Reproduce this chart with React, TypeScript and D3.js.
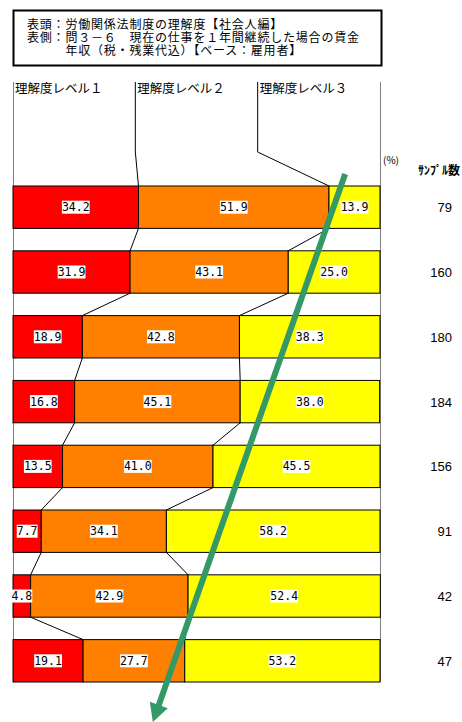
import React, { useEffect, useRef } from 'react';
import * as d3 from 'd3';

// タイトル
const titleLines = [
    '表頭：労働関係法制度の理解度【社会人編】',
    '表側：問３－６　現在の仕事を１年間継続した場合の賃金',
    '　　　年収（税・残業代込）【ベース：雇用者】',
];

const seriesNames = ['理解度レベル１', '理解度レベル２', '理解度レベル３'];
const level1 = [34.2, 31.9, 18.9, 16.8, 13.5, 7.7, 4.8, 19.1];
const level2 = [51.9, 43.1, 42.8, 45.1, 41.0, 34.1, 42.9, 27.7];
const level3 = [13.9, 25.0, 38.3, 38.0, 45.5, 58.2, 52.4, 53.2];
const sampleSizes = [79, 160, 180, 184, 156, 91, 42, 47];

const colors = ['#ff0000', '#ff8000', '#ffff00'];

const W = 462;
const H = 722;
const JP = '"Noto Sans CJK JP", sans-serif';

const App: React.FC = () => {
    const svgRef = useRef<SVGSVGElement>(null);

    useEffect(() => {
        const svg = d3.select(svgRef.current);
        svg.selectAll('*').remove();

        const left = 13, right = 380, headTop = 82, barTop = 186, barBottom = 682;

        const x = d3.scaleLinear().domain([0, 100]).range([left, right]);
        const y = d3.scaleBand<number>()
            .domain(d3.range(level1.length))
            .range([barTop, barBottom])
            .paddingInner(0.346)
            .paddingOuter(0);
        const bw = y.bandwidth();

        const rows = level1.map((_, i) => ({ i, l1: level1[i], l2: level2[i], l3: level3[i] }));
        const stacked = d3.stack<any>().keys(['l1', 'l2', 'l3'])(rows);
        // cumulative boundaries for connector lines
        const cum = (i: number, k: number) => stacked[k - 1][i][1];

        svg.append('rect').attr('width', W).attr('height', H).attr('fill', '#fff');

        // title box
        svg.append('rect')
            .attr('x', 13.5).attr('y', 10.5)
            .attr('width', 368).attr('height', 55)
            .attr('fill', '#fff').attr('stroke', '#000').attr('stroke-width', 2);
        svg.selectAll('.title')
            .data(titleLines)
            .enter()
            .append('text')
            .attr('x', 27)
            .attr('y', (d, i) => 29 + i * 12.8)
            .style('font-family', JP)
            .style('font-size', '12px')
            .style('letter-spacing', '0.8px')
            .style('fill', '#000')
            .text(d => d);

        // frame lines
        [left, right].forEach(px => {
            svg.append('line')
                .attr('x1', px + 0.5).attr('x2', px + 0.5)
                .attr('y1', headTop).attr('y2', barBottom)
                .attr('stroke', '#808080').attr('stroke-width', 1);
        });

        // legend labels + leader lines
        const slot = (right - left) / 3;
        seriesNames.forEach((name, k) => {
            const sx = left + k * slot;
            svg.append('text')
                .attr('x', sx + 2)
                .attr('y', 93)
                .style('font-family', JP)
                .style('font-size', '12.5px')
                .style('fill', '#000')
                .text(name);
            if (k > 0) {
                svg.append('path')
                    .attr('d', `M${sx},${headTop}V152L${x(cum(0, k))},${barTop}`)
                    .attr('fill', 'none')
                    .attr('stroke', '#000')
                    .attr('stroke-width', 1);
            }
        });

        svg.append('text')
            .attr('x', 383).attr('y', 164)
            .style('font-family', JP).style('font-size', '10px')
            .text('(%)');
        svg.append('text')
            .attr('x', 418).attr('y', 175)
            .style('font-family', JP).style('font-size', '12px')
            .style('font-weight', 'bold')
            .text('ｻﾝﾌﾟﾙ数');

        // connectors between bars
        for (let i = 0; i < rows.length - 1; i++) {
            [1, 2].forEach(k => {
                svg.append('line')
                    .attr('x1', x(cum(i, k))).attr('y1', (y(i) as number) + bw)
                    .attr('x2', x(cum(i + 1, k))).attr('y2', y(i + 1) as number)
                    .attr('stroke', '#000').attr('stroke-width', 1);
            });
        }

        // bars
        const layers = svg.selectAll('.layer')
            .data(stacked)
            .enter()
            .append('g')
            .attr('fill', (d, k) => colors[k]);

        layers.selectAll('rect')
            .data(d => d)
            .enter()
            .append('rect')
            .attr('x', d => x(d[0]))
            .attr('y', (d, i) => y(i) as number)
            .attr('width', d => x(d[1]) - x(d[0]))
            .attr('height', bw)
            .attr('stroke', '#000')
            .attr('stroke-width', 1);

        // value labels with white box
        const fmt = d3.format('.1f');
        stacked.forEach(layer => {
            layer.forEach((d, i) => {
                const cx = (x(d[0]) + x(d[1])) / 2;
                const cy = (y(i) as number) + bw / 2;
                const g = svg.append('g');
                const bg = g.append('rect').attr('fill', '#fff');
                const t = g.append('text')
                    .attr('x', cx).attr('y', cy + 4)
                    .attr('text-anchor', 'middle')
                    .style('font-family', '"DejaVu Sans Mono", monospace')
                    .style('font-size', '11.5px')
                    .style('fill', '#000')
                    .text(fmt(d[1] - d[0]));
                const bb = (t.node() as SVGTextElement).getBBox();
                bg.attr('x', bb.x).attr('y', cy - 6.5)
                    .attr('width', bb.width).attr('height', 13);
            });
        });

        // sample sizes
        svg.selectAll('.n')
            .data(sampleSizes)
            .enter()
            .append('text')
            .attr('x', 452)
            .attr('y', (d, i) => (y(i) as number) + bw / 2 + 5)
            .attr('text-anchor', 'end')
            .style('font-family', '"Liberation Sans", Arial, sans-serif')
            .style('font-size', '13px')
            .style('fill', '#000')
            .text(d => d);

        // green arrow annotation
        const start: [number, number] = [x(90.5), barTop - 12];
        const tip: [number, number] = [x(38.1), barBottom + 40];
        const dx = tip[0] - start[0], dy = tip[1] - start[1];
        const len = Math.hypot(dx, dy);
        const ux = dx / len, uy = dy / len;
        const headLen = 18, headHalf = 9.5;
        const base: [number, number] = [tip[0] - ux * headLen, tip[1] - uy * headLen];
        const arrowColor = '#339966';

        svg.append('line')
            .attr('x1', start[0]).attr('y1', start[1])
            .attr('x2', base[0] + ux * 2).attr('y2', base[1] + uy * 2)
            .attr('stroke', arrowColor)
            .attr('stroke-width', 6);
        svg.append('path')
            .attr('d', `M${tip[0]},${tip[1]}L${base[0] - uy * headHalf},${base[1] + ux * headHalf}L${base[0] + uy * headHalf},${base[1] - ux * headHalf}Z`)
            .attr('fill', arrowColor);
    }, []);

    return (
        <svg
            ref={svgRef}
            width={W}
            height={H}
            style={{ position: 'absolute', left: 0, top: 0, display: 'block' }}
        />
    );
};

export default App;
